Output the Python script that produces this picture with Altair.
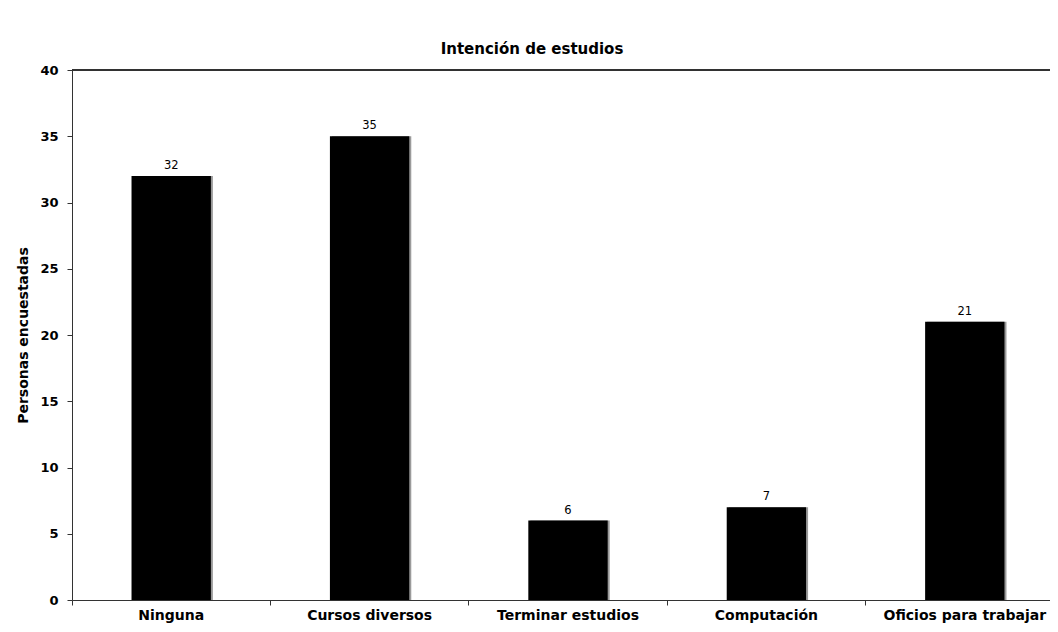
import altair as alt
import pandas as pd

categories = ["Ninguna", "Cursos diversos", "Terminar estudios", "Computación", "Oficios para trabajar"]
values = [32, 35, 6, 7, 21]

df = pd.DataFrame({"cat": categories, "val": values})

font = "DejaVu Sans"

x = alt.X("cat:N", sort=categories, title=None,
          scale=alt.Scale(paddingInner=0, paddingOuter=0),
          axis=alt.Axis(labelAngle=0, labelFont=font, labelFontWeight="bold", labelFontSize=14,
                        labelColor="#000", labelPadding=3, bandPosition=0, tickSize=5,
                        domainColor="#333", tickColor="#333", labelLimit=300))
y = alt.Y("val:Q", title="Personas encuestadas",
          scale=alt.Scale(domain=[0, 40]),
          axis=alt.Axis(values=[0, 5, 10, 15, 20, 25, 30, 35, 40], grid=False,
                        labelFont=font, labelFontWeight="bold", labelFontSize=13, labelColor="#000",
                        labelPadding=9, tickSize=5, domainColor="#333", tickColor="#333",
                        titleFont=font, titleFontWeight="bold", titleFontSize=14, titleColor="#000",
                        titlePadding=9))

base = alt.Chart(df)

bw = alt.RelativeBandSize(0.4)
shadow = base.mark_bar(color="#9a9a9a", xOffset=2, width=bw).encode(x=x, y=y)
bars = base.mark_bar(color="#000000", width=bw).encode(x=x, y=y)
labels = base.mark_text(font=font, fontSize=11.5, color="#000", baseline="bottom", dy=-5).encode(
    x=x, y=y, text="val:Q")
top_line = alt.Chart(df).mark_rule(color="#333", strokeWidth=1.5).encode(
    x=alt.value(0), x2=alt.value("width"), y=alt.value(0))

chart = (shadow + bars + labels + top_line).properties(
    width=992, height=530,
    title=alt.TitleParams("Intención de estudios", font=font, fontSize=15, fontWeight="bold",
                          color="#000", offset=7, dx=-36),
    autosize=alt.AutoSizeParams(type="none"),
    padding={"left": 64, "top": 62, "right": -14, "bottom": 24},
).configure_view(stroke=None)

chart.save("out.html", embed_options={"renderer": "svg", "actions": False})
